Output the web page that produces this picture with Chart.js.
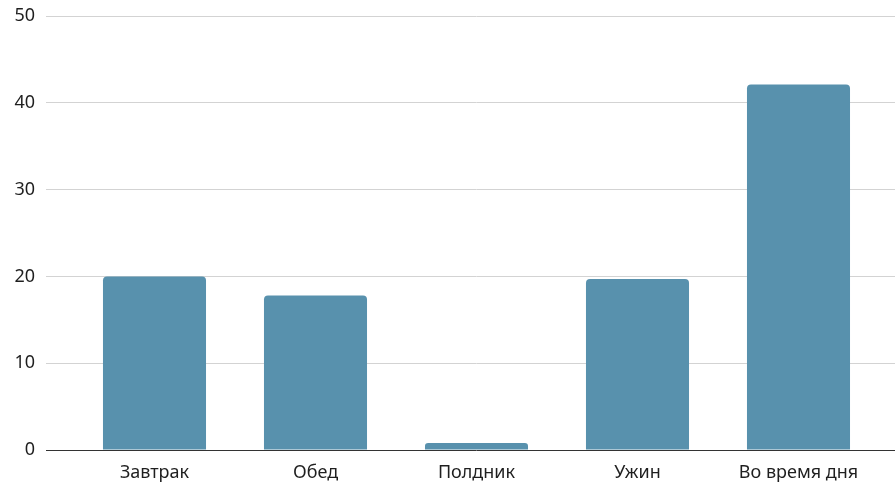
<!DOCTYPE html>
<html>
<head>
<meta charset="utf-8">
<script src="https://cdn.jsdelivr.net/npm/chart.js@4/dist/chart.umd.min.js"></script>
<style>
  html, body { margin: 0; padding: 0; background: #ffffff; }
  #wrap { width: 895px; height: 482px; }
</style>
</head>
<body>
<div id="wrap"><canvas id="chart"></canvas></div>
<script>
const categories = ['Завтрак', 'Обед', 'Полдник', 'Ужин', 'Во время дня'];
const values = [20, 17.8, 0.8, 19.7, 42.1];
const yTicks = [0, 10, 20, 30, 40, 50];

const FONT = { family: '"Noto Sans", "Liberation Sans", Arial, sans-serif', size: 18 };
const gridColor = (ctx) => (ctx.tick && ctx.tick.value === 0 ? '#333333' : '#d3d3d3');
const fixedTicks = (axis) => { axis.ticks = yTicks.map(v => ({ value: v })); };

new Chart(document.getElementById('chart'), {
  type: 'bar',
  data: {
    labels: categories,
    datasets: [{
      data: values,
      backgroundColor: '#5891ad',
      borderRadius: { topLeft: 4, topRight: 4, bottomLeft: 0, bottomRight: 0 },
      borderSkipped: 'bottom',
      categoryPercentage: 1,
      barPercentage: 0.64
    }]
  },
  options: {
    responsive: true,
    maintainAspectRatio: false,
    animation: false,
    layout: { padding: { top: 16, right: 0, bottom: 0, left: 0 } },
    plugins: { legend: { display: false }, tooltip: { enabled: false } },
    scales: {
      x: {
        offset: true,
        border: { display: false },
        grid: { display: false, drawTicks: false },
        ticks: { color: '#1f1f1f', padding: 12, font: FONT, maxRotation: 0 },
        afterFit: (axis) => { axis.height = 32; axis.paddingLeft = 0; axis.paddingRight = 0; }
      },
      y: {
        min: yTicks[0],
        max: yTicks[yTicks.length - 1],
        afterBuildTicks: fixedTicks,
        border: { display: false },
        grid: { color: gridColor, tickColor: gridColor, tickLength: 28, lineWidth: 1 },
        ticks: { color: '#1f1f1f', padding: 11, font: FONT },
        afterFit: (axis) => { axis.width = 74; axis.paddingTop = 0; axis.paddingBottom = 0; }
      },
      yRight: {
        position: 'right',
        min: yTicks[0],
        max: yTicks[yTicks.length - 1],
        afterBuildTicks: fixedTicks,
        border: { display: false },
        grid: { color: gridColor, tickColor: gridColor, tickLength: 16, drawOnChartArea: false },
        ticks: { display: false },
        afterFit: (axis) => { axis.width = 16; axis.paddingTop = 0; axis.paddingBottom = 0; }
      }
    }
  }
});
</script>
</body>
</html>
